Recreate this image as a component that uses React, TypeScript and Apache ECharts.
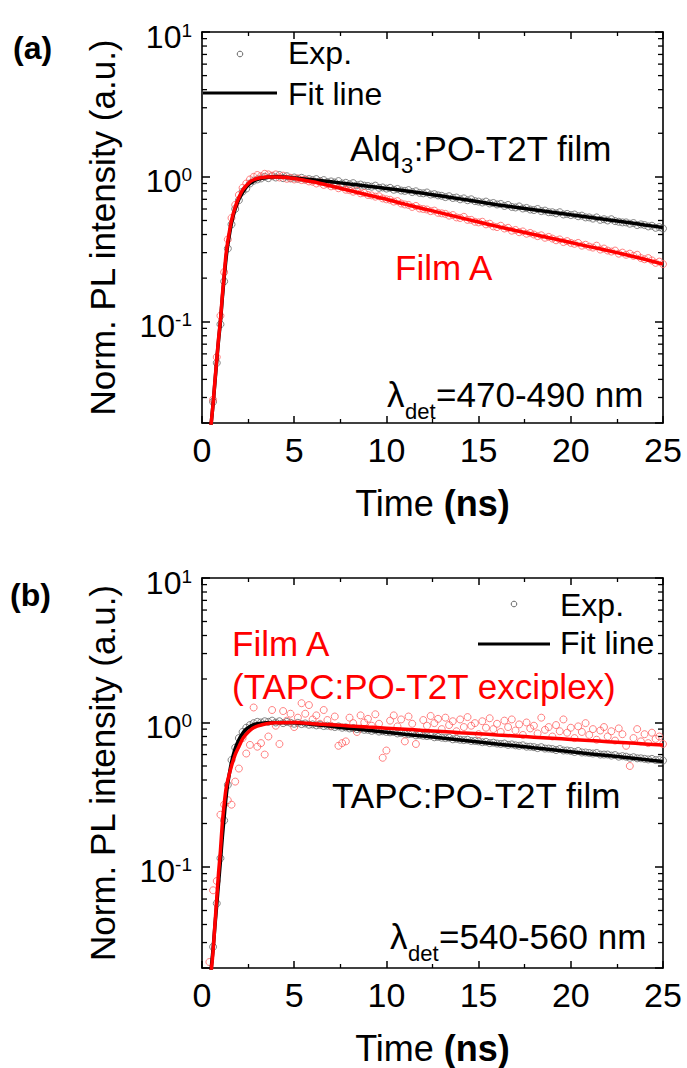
import React, { useEffect, useRef } from "react";
import * as echarts from "echarts";

const FONT = "'Liberation Sans', Arial, Helvetica, sans-serif";

// Sampling times of the measured decays (ns)
const TIME_NS = [
  0.4, 0.6, 0.8,
  1.0, 1.2, 1.4, 1.6, 1.8, 2.0, 2.2, 2.4, 2.6, 2.8, 3.0, 3.2, 3.4, 3.6, 3.8,
  4.0, 4.2, 4.4, 4.6, 4.8, 5.0, 5.2, 5.4, 5.6, 5.8, 6.0, 6.2, 6.4, 6.6, 6.8,
  7.0, 7.2, 7.4, 7.6, 7.8, 8.0, 8.2, 8.4, 8.6, 8.8, 9.0, 9.2, 9.4, 9.6, 9.8,
  10.0, 10.2, 10.4, 10.6, 10.8, 11.0, 11.2, 11.4, 11.6, 11.8, 12.0, 12.2, 12.4, 12.6, 12.8,
  13.0, 13.2, 13.4, 13.6, 13.8, 14.0, 14.2, 14.4, 14.6, 14.8, 15.0, 15.2, 15.4, 15.6, 15.8,
  16.0, 16.2, 16.4, 16.6, 16.8, 17.0, 17.2, 17.4, 17.6, 17.8, 18.0, 18.2, 18.4, 18.6, 18.8,
  19.0, 19.2, 19.4, 19.6, 19.8, 20.0, 20.2, 20.4, 20.6, 20.8, 21.0, 21.2, 21.4, 21.6, 21.8,
  22.0, 22.2, 22.4, 22.6, 22.8, 23.0, 23.2, 23.4, 23.6, 23.8, 24.0, 24.2, 24.4, 24.6, 24.8,
  25.0,
];

// Panel (a) measured points
const A_ALQ_EXP = [
  0.017, 0.028, 0.052,
  0.096, 0.19, 0.32, 0.47, 0.6, 0.69, 0.79, 0.83, 0.9, 0.94, 0.96, 0.975, 1.0, 0.98, 1.01,
  0.99, 1.03, 0.98, 1.01, 0.975, 0.99, 0.97, 0.985, 0.96, 0.965, 0.95, 0.965, 0.935, 0.95, 0.92,
  0.93, 0.915, 0.935, 0.9, 0.91, 0.89, 0.905, 0.875, 0.885, 0.87, 0.865, 0.855, 0.87, 0.84, 0.845,
  0.83, 0.84, 0.815, 0.825, 0.805, 0.8, 0.81, 0.785, 0.795, 0.775, 0.77, 0.78, 0.755, 0.76, 0.745,
  0.74, 0.725, 0.735, 0.715, 0.72, 0.7, 0.71, 0.69, 0.7, 0.68, 0.675, 0.665, 0.675, 0.655, 0.66,
  0.645, 0.65, 0.63, 0.64, 0.62, 0.615, 0.625, 0.605, 0.61, 0.595, 0.59, 0.6, 0.58, 0.585, 0.57,
  0.57, 0.56, 0.57, 0.55, 0.555, 0.545, 0.55, 0.535, 0.54, 0.525, 0.525, 0.515, 0.525, 0.505, 0.51,
  0.5, 0.51, 0.495, 0.49, 0.485, 0.485, 0.475, 0.48, 0.465, 0.47, 0.465, 0.455, 0.46, 0.445, 0.45,
  0.44,
];
const A_FILMA_EXP = [
  0.017, 0.029, 0.057,
  0.11, 0.22, 0.37, 0.52, 0.64, 0.75, 0.84, 0.9, 0.96, 1.0, 1.03, 1.01, 1.05, 1.04, 1.02,
  1.04, 0.99, 1.02, 0.97, 0.985, 0.96, 0.975, 0.95, 0.955, 0.93, 0.925, 0.9, 0.915, 0.88, 0.89,
  0.86, 0.865, 0.835, 0.85, 0.815, 0.81, 0.79, 0.8, 0.77, 0.775, 0.75, 0.745, 0.73, 0.735, 0.71,
  0.7, 0.695, 0.675, 0.68, 0.655, 0.645, 0.64, 0.62, 0.63, 0.605, 0.6, 0.595, 0.58, 0.585, 0.565,
  0.56, 0.555, 0.54, 0.545, 0.525, 0.52, 0.53, 0.505, 0.505, 0.49, 0.485, 0.49, 0.47, 0.475, 0.455,
  0.45, 0.46, 0.44, 0.445, 0.425, 0.43, 0.415, 0.42, 0.405, 0.41, 0.4, 0.39, 0.395, 0.38, 0.385,
  0.375, 0.365, 0.37, 0.355, 0.36, 0.35, 0.345, 0.35, 0.335, 0.34, 0.33, 0.325, 0.335, 0.315, 0.32,
  0.31, 0.305, 0.31, 0.295, 0.3, 0.29, 0.295, 0.285, 0.29, 0.275, 0.27, 0.275, 0.265, 0.255, 0.26,
  0.25,
];

// Panel (b) measured points
const B_TAPC_EXP = [
  0.016, 0.028, 0.056,
  0.115, 0.21, 0.37, 0.55, 0.67, 0.78, 0.86, 0.92, 0.96, 0.99, 1.01, 1.0, 1.02, 1.01, 1.03,
  1.0, 1.02, 0.99, 1.01, 0.995, 0.98, 0.995, 0.975, 0.985, 0.965, 0.97, 0.955, 0.965, 0.945, 0.95,
  0.94, 0.93, 0.94, 0.92, 0.925, 0.91, 0.915, 0.9, 0.905, 0.89, 0.89, 0.875, 0.885, 0.865, 0.87,
  0.86, 0.855, 0.86, 0.84, 0.845, 0.835, 0.83, 0.835, 0.815, 0.82, 0.81, 0.805, 0.81, 0.79, 0.795,
  0.785, 0.78, 0.785, 0.765, 0.77, 0.76, 0.755, 0.76, 0.745, 0.745, 0.74, 0.73, 0.735, 0.72, 0.725,
  0.715, 0.71, 0.715, 0.7, 0.705, 0.695, 0.69, 0.695, 0.68, 0.68, 0.675, 0.665, 0.675, 0.66, 0.66,
  0.655, 0.645, 0.655, 0.64, 0.64, 0.635, 0.625, 0.635, 0.62, 0.62, 0.615, 0.61, 0.615, 0.6, 0.6,
  0.6, 0.59, 0.595, 0.58, 0.585, 0.58, 0.57, 0.575, 0.565, 0.565, 0.56, 0.555, 0.56, 0.55, 0.55,
  0.545,
];
const B_FILMA_EXP = [
  0.022, 0.069, 0.08,
  0.23, 0.27, 0.29, 0.27, 0.39, 0.48, 0.78, 0.61, 0.7, 1.27, 0.68, 0.72, 0.6, 0.8, 1.22,
  0.95, 0.71, 1.2, 1.03, 1.15, 0.93, 1.08, 1.36, 1.15, 1.32, 1.05, 1.12, 0.98, 1.22, 1.04,
  0.95, 1.1, 0.69, 0.72, 0.74, 1.08, 0.99, 0.86, 1.12, 1.0, 1.06, 0.95, 1.14, 0.98, 0.57,
  0.64, 1.03, 1.12, 0.94, 1.05, 0.74, 1.1, 0.98, 0.71, 0.85, 1.04, 0.95, 1.11, 0.99, 1.06,
  0.9, 1.08, 0.96, 1.02, 0.87, 1.05, 0.93, 1.09, 0.95, 0.99, 0.83, 1.02, 0.92, 1.07, 0.9,
  0.98, 0.86, 1.03, 0.93, 1.05, 0.88, 0.97, 0.82, 1.0, 0.91, 0.95, 0.84, 1.08, 0.89, 0.93,
  0.8, 0.96, 0.87, 1.05, 0.85, 0.92, 0.78, 0.94, 0.86, 0.99, 0.82, 0.9, 0.76, 0.88, 0.93,
  0.8, 0.87, 0.75, 0.91, 0.83, 0.69, 0.5, 0.78, 0.9, 0.74, 0.83, 0.72, 0.85, 0.77, 0.8,
  0.71,
];

// Fit curves
const FIT_T = [
  0.45, 0.5, 0.6, 0.7, 0.8, 0.9, 1.0, 1.1, 1.2, 1.3, 1.4, 1.6, 1.8, 2.0, 2.2, 2.4, 2.6, 2.8,
  3.0, 3.5, 4, 5, 6, 7, 8, 9, 10, 11, 12, 13, 14, 15, 16, 17, 18, 19, 20, 21, 22, 23, 24, 25,
];
const A_ALQ_FIT = [
  0.017, 0.02, 0.027, 0.038, 0.054, 0.075, 0.1, 0.145, 0.2, 0.27, 0.34, 0.48, 0.6, 0.7, 0.78, 0.85, 0.9, 0.935,
  0.96, 0.99, 1.0, 0.982, 0.955, 0.925, 0.893, 0.862, 0.832, 0.802, 0.77, 0.737, 0.705, 0.673, 0.642, 0.617,
  0.593, 0.57, 0.548, 0.527, 0.506, 0.486, 0.466, 0.447,
];
const A_FILMA_FIT = [
  0.017, 0.02, 0.027, 0.039, 0.055, 0.077, 0.103, 0.15, 0.21, 0.29, 0.36, 0.5, 0.62, 0.72, 0.81, 0.87, 0.925, 0.955,
  0.975, 0.997, 0.998, 0.975, 0.925, 0.865, 0.805, 0.75, 0.7, 0.648, 0.603, 0.562, 0.523, 0.488, 0.455, 0.426,
  0.4, 0.375, 0.352, 0.33, 0.31, 0.29, 0.27, 0.25,
];
const B_TAPC_FIT = [
  0.017, 0.02, 0.027, 0.039, 0.055, 0.078, 0.11, 0.16, 0.22, 0.3, 0.38, 0.53, 0.66, 0.76, 0.84, 0.9, 0.94, 0.965,
  0.98, 0.995, 1.0, 0.997, 0.97, 0.94, 0.91, 0.885, 0.857, 0.83, 0.805, 0.78, 0.757, 0.734, 0.71, 0.69,
  0.668, 0.648, 0.628, 0.608, 0.59, 0.572, 0.554, 0.537,
];
const B_FILMA_FIT = [
  0.017, 0.019, 0.026, 0.04, 0.061, 0.092, 0.13, 0.2, 0.27, 0.345, 0.4, 0.5, 0.6, 0.68, 0.77, 0.83, 0.88, 0.92,
  0.945, 0.98, 0.995, 1.0, 0.982, 0.965, 0.947, 0.93, 0.914, 0.898, 0.882, 0.866, 0.85, 0.836, 0.82, 0.806,
  0.792, 0.778, 0.764, 0.75, 0.737, 0.724, 0.711, 0.698,
];

// Log-axis minor tick positions
const MINOR_Y = [
  0.03, 0.04, 0.05, 0.06, 0.07, 0.08, 0.09,
  0.2, 0.3, 0.4, 0.5, 0.6, 0.7, 0.8, 0.9,
  2, 3, 4, 5, 6, 7, 8, 9,
];

const X_MIN = 0;
const X_MAX = 25;
const X_STEP = 5;
const Y_MIN = 0.02;
const Y_MAX = 10;

const GRAY = "#666666";
const PINK = "#ff6262";
const RED = "#ff0000";

function pair(xs: number[], ys: number[]) {
  return xs.map((x, i) => [x, ys[i]]);
}

let measureCtx: CanvasRenderingContext2D | null = null;
function measure(text: string, size: number) {
  if (!measureCtx) measureCtx = document.createElement("canvas").getContext("2d");
  if (!measureCtx) return text.length * size * 0.55;
  measureCtx.font = `${size}px ${FONT}`;
  return measureCtx.measureText(text).width;
}

function buildAxes(g: number) {
  const lineStyle = { color: "#000", width: 1.6 };
  const bottomX = {
    type: "value",
    gridIndex: g,
    min: X_MIN,
    max: X_MAX,
    interval: X_STEP,
    position: "bottom",
    axisLine: { show: true, onZero: false, lineStyle },
    axisTick: { show: true, inside: true, length: 7, lineStyle: { color: "#000", width: 1.5 } },
    minorTick: { show: true, splitNumber: 2, length: 4, lineStyle: { color: "#000", width: 1.3 } },
    splitLine: { show: false },
    minorSplitLine: { show: false },
    axisLabel: { fontSize: 34, color: "#000", margin: 10, fontFamily: FONT },
    name: "Time {b|(ns)}",
    nameLocation: "middle",
    nameGap: 62,
    nameTextStyle: {
      fontSize: 36,
      color: "#000",
      fontFamily: FONT,
      lineHeight: 36,
      rich: { b: { fontSize: 36, fontWeight: "bold", color: "#000", fontFamily: FONT, lineHeight: 36 } },
    },
  };
  const topX = {
    type: "value",
    gridIndex: g,
    min: X_MIN,
    max: X_MAX,
    interval: X_STEP,
    position: "top",
    axisLine: { show: true, onZero: false, lineStyle },
    axisTick: { show: true, inside: true, length: 7, lineStyle: { color: "#000", width: 1.5 } },
    minorTick: { show: true, splitNumber: 2, length: 4, lineStyle: { color: "#000", width: 1.3 } },
    splitLine: { show: false },
    axisLabel: { show: false },
  };
  const leftY = {
    type: "log",
    logBase: 10,
    gridIndex: g,
    min: Y_MIN,
    max: Y_MAX,
    position: "left",
    axisLine: { show: true, onZero: false, lineStyle },
    axisTick: { show: true, inside: true, length: 8, lineStyle: { color: "#000", width: 1.5 } },
    splitLine: { show: false },
    axisLabel: {
      color: "#000",
      fontFamily: FONT,
      margin: 10,
      padding: [9, 0, 0, 0],
      formatter: (v: number) => {
        const l = Math.log10(v);
        const e = Math.round(l);
        if (Math.abs(l - e) > 1e-6) return "";
        return "{m|10}{e|" + e + "}";
      },
      rich: {
        m: { fontSize: 32, lineHeight: 32, fontFamily: FONT, color: "#000" },
        e: { fontSize: 19, lineHeight: 19, verticalAlign: "top", fontFamily: FONT, color: "#000" },
      },
    },
    name: "Norm. PL intensity (a.u.)",
    nameLocation: "middle",
    nameGap: 82,
    nameTextStyle: { fontSize: 35, color: "#000", fontFamily: FONT },
  };
  const rightY = {
    type: "log",
    logBase: 10,
    gridIndex: g,
    min: Y_MIN,
    max: Y_MAX,
    position: "right",
    axisLine: { show: true, onZero: false, lineStyle },
    axisTick: { show: true, inside: true, length: 8, lineStyle: { color: "#000", width: 1.5 } },
    splitLine: { show: false },
    axisLabel: { show: false },
  };
  return { x: [bottomX, topX], y: [leftY, rightY] };
}

function buildSeries(
  g: number,
  blackExp: number[],
  redExp: number[],
  blackFit: number[],
  redFit: number[]
) {
  const xi = g * 2;
  const yi = g * 2;
  const scatter = (data: number[], color: string) => ({
    type: "scatter",
    xAxisIndex: xi,
    yAxisIndex: yi,
    data: pair(TIME_NS, data),
    symbol: "circle",
    symbolSize: 7,
    clip: true,
    itemStyle: { color: "rgba(0,0,0,0)", borderColor: color, borderWidth: 1 },
    silent: true,
  });
  const line = (data: number[], color: string) => ({
    type: "line",
    xAxisIndex: xi,
    yAxisIndex: yi,
    data: pair(FIT_T, data),
    showSymbol: false,
    symbol: "none",
    smooth: 0.25,
    clip: true,
    lineStyle: { color, width: 3.5 },
    silent: true,
  });
  const minor = {
    type: "custom",
    xAxisIndex: xi,
    yAxisIndex: yi,
    data: MINOR_Y.map((v) => [X_MIN, v]),
    encode: { x: 0, y: 1 },
    silent: true,
    clip: false,
    renderItem: (_p: any, api: any) => {
      const v = api.value(1);
      const l = api.coord([X_MIN, v]);
      const r = api.coord([X_MAX, v]);
      return {
        type: "group",
        children: [
          { type: "line", shape: { x1: l[0], y1: l[1], x2: l[0] + 5, y2: l[1] }, style: { stroke: "#000", lineWidth: 1.3 } },
          { type: "line", shape: { x1: r[0], y1: r[1], x2: r[0] - 5, y2: r[1] }, style: { stroke: "#000", lineWidth: 1.3 } },
        ],
      };
    },
  };
  return [scatter(blackExp, GRAY), scatter(redExp, PINK), line(blackFit, "#000"), line(redFit, RED), minor];
}

function txt(x: number, y: number, text: string, size: number, fill: string, bold = false) {
  return {
    type: "text",
    x,
    y,
    silent: true,
    style: {
      text,
      fontSize: size,
      fontFamily: FONT,
      fontWeight: bold ? "bold" : "normal",
      fill,
      align: "left",
      verticalAlign: "middle",
    },
  };
}

// main text + subscript + main text, main centred on y
function subTxt(x: number, y: number, pre: string, sub: string, post: string) {
  const MAIN = 35;
  const SUB = 22;
  const w1 = measure(pre, MAIN);
  const w2 = measure(sub, SUB);
  return [
    txt(x, y, pre, MAIN, "#000"),
    txt(x + w1 + 0.5, y + 16.5, sub, SUB, "#000"),
    txt(x + w1 + w2 + 1, y, post, MAIN, "#000"),
  ];
}

export default function App() {
  const ref = useRef<HTMLDivElement>(null);
  useEffect(() => {
    if (!ref.current) return;
    const chart = echarts.init(ref.current, undefined, { renderer: "svg" });
    const a = buildAxes(0);
    const b = buildAxes(1);
    const option: any = {
      animation: false,
      backgroundColor: "#ffffff",
      textStyle: { fontFamily: FONT },
      grid: [
        { left: 202, top: 32, width: 461, height: 391 },
        { left: 202, top: 578, width: 461, height: 390 },
      ],
      xAxis: [...a.x, ...b.x],
      yAxis: [...a.y, ...b.y],
      series: [
        ...buildSeries(0, A_ALQ_EXP, A_FILMA_EXP, A_ALQ_FIT, A_FILMA_FIT),
        ...buildSeries(1, B_TAPC_EXP, B_FILMA_EXP, B_TAPC_FIT, B_FILMA_FIT),
      ],
      graphic: [
        txt(13, 48, "(a)", 32, "#000", true),
        txt(10, 595, "(b)", 32, "#000", true),
        // legend (a)
        { type: "circle", silent: true, shape: { cx: 240, cy: 54, r: 2.8 }, style: { fill: "none", stroke: GRAY, lineWidth: 1 } },
        txt(288, 52.5, "Exp.", 32, "#000"),
        { type: "line", silent: true, shape: { x1: 203, y1: 93, x2: 277, y2: 93 }, style: { stroke: "#000", lineWidth: 3 } },
        txt(288, 94, "Fit line", 32, "#000"),
        // annotations (a)
        ...subTxt(350, 148.5, "Alq", "3", ":PO-T2T film"),
        txt(395, 267.5, "Film A", 35, RED),
        ...subTxt(387, 394.5, "λ", "det", "=470-490 nm"),
        // legend (b)
        { type: "circle", silent: true, shape: { cx: 514, cy: 604, r: 2.8 }, style: { fill: "none", stroke: GRAY, lineWidth: 1 } },
        txt(560, 605, "Exp.", 32, "#000"),
        { type: "line", silent: true, shape: { x1: 478, y1: 644, x2: 550, y2: 644 }, style: { stroke: "#000", lineWidth: 3 } },
        txt(560, 643, "Fit line", 32, "#000"),
        // annotations (b)
        txt(232, 643.5, "Film A", 35, RED),
        txt(232, 686, "(TAPC:PO-T2T exciplex)", 35, RED),
        txt(332, 795, "TAPC:PO-T2T film", 35, "#000"),
        ...subTxt(390, 936.5, "λ", "det", "=540-560 nm"),
      ],
    };
    chart.setOption(option);
    return () => chart.dispose();
  }, []);
  return (
    <div
      ref={ref}
      style={{ position: "fixed", left: 0, top: 0, width: 687, height: 1068, background: "#fff" }}
    />
  );
}
